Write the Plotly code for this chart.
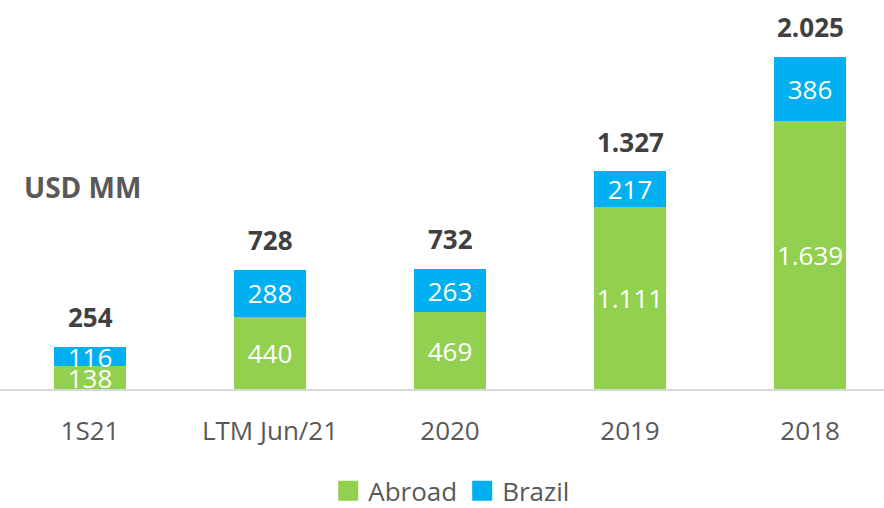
import plotly.graph_objects as go

categories = ["1S21", "LTM Jun/21", "2020", "2019", "2018"]
abroad = [138, 440, 469, 1111, 1639]
brazil = [116, 288, 263, 217, 386]
totals = [254, 728, 732, 1327, 2025]

GREEN = "#92D050"
BLUE = "#00B0F0"
FONT = "Open Sans"


def fmt(v):
    return f"{v:,}".replace(",", ".")


fig = go.Figure()
for name, vals, col in [("Abroad", abroad, GREEN), ("Brazil", brazil, BLUE)]:
    fig.add_trace(go.Bar(
        name=name, x=categories, y=vals, marker_color=col,
        marker_line_width=0, width=0.4, showlegend=False,
        text=[fmt(v) for v in vals], textposition="inside", textangle=0,
        insidetextanchor="middle", constraintext="none",
        textfont=dict(family=FONT, size=26, color="white"),
        cliponaxis=False,
    ))

# legend entries with larger square swatches
for name, col in [("Abroad", GREEN), ("Brazil", BLUE)]:
    fig.add_trace(go.Scatter(
        name=name, x=[None], y=[None], mode="markers",
        marker=dict(symbol="square", size=16, color=col,
                    line=dict(color=col, width=4)),
        showlegend=True,
    ))

for i, t in enumerate(totals):
    fig.add_annotation(
        x=i, y=t, text=f"<b>{fmt(t)}</b>", showarrow=False,
        yanchor="bottom", yshift=10,
        font=dict(family=FONT, size=26, color="#404040"),
    )

fig.add_annotation(
    xref="paper", yref="paper", x=82 / 884, y=0.519,
    text="<b>USD MM</b>", showarrow=False,
    xanchor="center", yanchor="middle",
    font=dict(family=FONT, size=28, color="#595959"),
)

fig.update_layout(
    width=884, height=508,
    margin=dict(l=0, r=0, t=0, b=119, autoexpand=False),
    paper_bgcolor="white", plot_bgcolor="white",
    barmode="stack",
    showlegend=True,
    legend=dict(
        orientation="h", x=0.511, xanchor="center", y=-0.262, yanchor="middle",
        traceorder="normal", itemsizing="trace",
        font=dict(family=FONT, size=26, color="#595959"),
    ),
    xaxis=dict(
        type="category", range=[-0.5, 4.411],
        showline=True, linecolor="#D9D9D9", linewidth=2,
        showgrid=False, ticks="", ticklabelstandoff=18,
        tickfont=dict(family=FONT, size=26, color="#595959"),
    ),
    yaxis=dict(
        range=[0, 2375], visible=False, showgrid=False, zeroline=False,
    ),
)

fig.write_html("out.html", config={"displayModeBar": False},
               post_script="document.body.style.margin='0';")
